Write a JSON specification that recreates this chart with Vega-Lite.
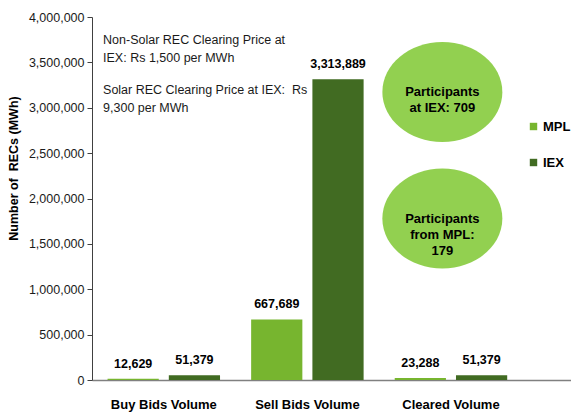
{
  "$schema": "https://vega.github.io/schema/vega-lite/v6.json",
  "width": 571,
  "height": 415,
  "autosize": {"type": "fit", "contains": "padding"},
  "padding": {"left": 7, "top": 11, "right": 0, "bottom": 4},
  "background": "#ffffff",
  "config": {
    "view": {"stroke": null},
    "font": "Liberation Sans",
    "text": {"lineBreak": "\n"}
  },
  "datasets": {
    "bars": [
      {"category": "Buy Bids Volume", "exchange": "MPL", "volume": 12629},
      {"category": "Buy Bids Volume", "exchange": "IEX", "volume": 51379},
      {"category": "Sell Bids Volume", "exchange": "MPL", "volume": 667689},
      {"category": "Sell Bids Volume", "exchange": "IEX", "volume": 3313889},
      {"category": "Cleared Volume", "exchange": "MPL", "volume": 23288},
      {"category": "Cleared Volume", "exchange": "IEX", "volume": 51379}
    ],
    "bubbles": [
      {"category": "Cleared Volume", "value": 3173554, "label": "Participants\nat IEX: 709"},
      {"category": "Cleared Volume", "value": 1779614, "label": "Participants\nfrom MPL:\n179"}
    ],
    "notes": [
      {"category": "Buy Bids Volume", "value": 3746556, "label": "Non-Solar REC Clearing Price at\nIEX: Rs 1,500 per MWh"},
      {"category": "Buy Bids Volume", "value": 3195592, "label": "Solar REC Clearing Price at IEX:\u00a0 Rs\n9,300 per MWh"}
    ]
  },
  "layer": [
    {
      "data": {"name": "bars"},
      "mark": {"type": "bar"},
      "encoding": {
        "x": {
          "field": "category",
          "type": "nominal",
          "sort": ["Buy Bids Volume", "Sell Bids Volume", "Cleared Volume"],
          "scale": {"domain": ["Buy Bids Volume", "Sell Bids Volume", "Cleared Volume"], "paddingInner": 0, "paddingOuter": 0.168, "align": 0},
          "axis": {
            "title": null,
            "labelAngle": 0,
            "ticks": false,
            "domainColor": "#808080",
            "domainWidth": 1.5,
            "labelFont": "Liberation Sans",
            "labelFontWeight": "bold",
            "labelFontSize": 13,
            "labelColor": "#000000",
            "labelPadding": 18
          }
        },
        "xOffset": {
          "field": "exchange",
          "type": "nominal",
          "sort": ["MPL", "IEX"],
          "scale": {"domain": ["MPL", "IEX"], "paddingInner": 0.164, "paddingOuter": 0.254}
        },
        "y": {
          "field": "volume",
          "type": "quantitative",
          "scale": {"domain": [0, 4000000], "nice": false},
          "axis": {
            "title": "Number of\u00a0 RECs (MWh)",
            "titleFont": "Liberation Sans",
            "titleFontWeight": "bold",
            "titleFontSize": 12.5,
            "titleColor": "#000000",
            "titleAngle": 270,
            "titleX": -79,
            "titleY": 151,
            "titleAlign": "center",
            "titleBaseline": "middle",
            "values": [0, 500000, 1000000, 1500000, 2000000, 2500000, 3000000, 3500000, 4000000],
            "format": ",d",
            "grid": false,
            "labelFont": "Liberation Sans",
            "labelFontSize": 12.5,
            "labelColor": "#1a1a1a",
            "labelPadding": 3,
            "tickSize": 5,
            "tickColor": "#404040",
            "domainColor": "#404040"
          }
        },
        "color": {
          "field": "exchange",
          "type": "nominal",
          "scale": {"domain": ["MPL", "IEX"], "range": ["#77b52f", "#416b22"]},
          "legend": {
            "title": null,
            "orient": "none",
            "legendX": 435,
            "legendY": 103,
            "symbolType": "square",
            "symbolSize": 55,
            "symbolStrokeWidth": 0,
            "labelFont": "Liberation Sans",
            "labelFontSize": 13,
            "labelFontWeight": "bold",
            "labelColor": "#000000",
            "rowPadding": 22,
            "labelOffset": 3
          }
        }
      }
    },
    {
      "data": {"name": "bars"},
      "mark": {"type": "text", "baseline": "bottom", "dy": -8, "fontSize": 12.5, "fontWeight": "bold", "color": "#000000", "font": "Liberation Sans"},
      "encoding": {
        "x": {"field": "category", "type": "nominal", "sort": ["Buy Bids Volume", "Sell Bids Volume", "Cleared Volume"]},
        "xOffset": {"field": "exchange", "type": "nominal", "sort": ["MPL", "IEX"]},
        "y": {"field": "volume", "type": "quantitative"},
        "text": {"field": "volume", "type": "quantitative", "format": ","}
      }
    },
    {
      "data": {"name": "bubbles"},
      "mark": {"type": "point", "shape": "M -1.2 0 A 1.2 1 0 1 0 1.2 0 A 1.2 1 0 1 0 -1.2 0 Z", "size": 10000, "filled": true, "opacity": 1, "color": "#92d050", "strokeWidth": 0},
      "encoding": {
        "x": {"field": "category", "type": "nominal", "bandPosition": 0.44},
        "y": {"field": "value", "type": "quantitative"}
      }
    },
    {
      "data": {"name": "bubbles"},
      "mark": {"type": "text", "align": "center", "baseline": "middle", "fontSize": 13, "fontWeight": "bold", "lineHeight": 16, "color": "#000000", "font": "Liberation Sans"},
      "encoding": {
        "x": {"field": "category", "type": "nominal", "bandPosition": 0.44},
        "y": {"field": "value", "type": "quantitative"},
        "text": {"field": "label", "type": "nominal"}
      }
    },
    {
      "data": {"name": "notes"},
      "mark": {"type": "text", "align": "left", "baseline": "middle", "fontSize": 12.5, "lineHeight": 18, "color": "#1a1a1a", "font": "Liberation Sans"},
      "encoding": {
        "x": {"field": "category", "type": "nominal", "bandPosition": 0.077},
        "y": {"field": "value", "type": "quantitative"},
        "text": {"field": "label", "type": "nominal"}
      }
    }
  ]
}
